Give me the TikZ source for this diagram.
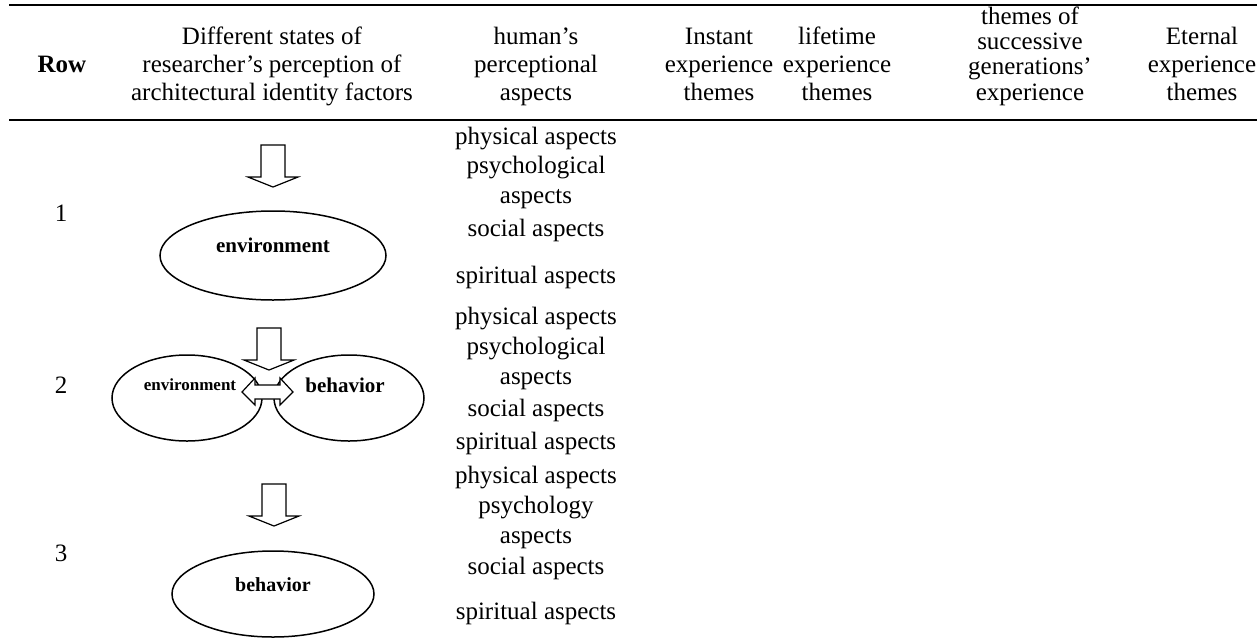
\documentclass[tikz,border=0pt]{standalone}
\usepackage{fontspec}
\setmainfont{Liberation Serif}
\usetikzlibrary{shapes.geometric}
% block arrow pointing down: name, centre x, top y
\newcommand{\blockdown}[3]{%
  \draw[blockarrow] (#2-12,#3) -- (#2+12,#3) -- (#2+12,#3+32) -- (#2+25,#3+32)
    -- (#2,#3+42) coordinate (#1) -- (#2-25,#3+32) -- (#2-12,#3+32) -- cycle;}
\begin{document}
\begin{tikzpicture}[x=0.5pt,y=-0.5pt,
	cell/.style={font=\fontsize{12.5pt}{15pt}\selectfont,inner sep=0pt,anchor=base},
	bubble/.style={ellipse,draw,line width=0.75pt,inner sep=0pt},
	tag/.style={font=\bfseries,inner sep=0pt},
	blockarrow/.style={draw,fill=white,line width=0.6pt,line join=miter}]
	\useasboundingbox (0,0) rectangle (1257,638);
	% rules
	\coordinate (tl) at (9,5);
	\coordinate (tr) at (1257,5);
	\coordinate (hl) at (9,120);
	\coordinate (hr) at (1257,120);
	\draw[line width=1pt] (tl) -- (tr);
	\draw[line width=1pt] (hl) -- (hr);
	% header
	\node[cell,font=\fontsize{12.5pt}{15pt}\selectfont\bfseries] (hrow) at (62,72) {Row};
	\foreach \y/\t [count=\i] in {44/Different states of,72/researcher’s perception of,100/architectural identity factors}
		\node[cell] (hst\i) at (272,\y) {\t};
	\foreach \y/\t [count=\i] in {44/human’s,72/perceptional,100/aspects}
		\node[cell] (hhu\i) at (536,\y) {\t};
	\foreach \y/\t [count=\i] in {44/Instant,72/experience,100/themes}
		\node[cell] (hin\i) at (719,\y) {\t};
	\foreach \y/\t [count=\i] in {44/lifetime,72/experience,100/themes}
		\node[cell] (hli\i) at (837,\y) {\t};
	\foreach \y/\t [count=\i] in {24/themes of,49/successive,74/generations’,100/experience}
		\node[cell] (hsu\i) at (1030,\y) {\t};
	\foreach \y/\t [count=\i] in {44/Eternal,72/experience,100/themes}
		\node[cell] (het\i) at (1202,\y) {\t};
	% row numbers
	\node[cell,anchor=center] (n1) at (61,213) {1};
	\node[cell,anchor=center] (n2) at (61,385) {2};
	\node[cell,anchor=center] (n3) at (61,553) {3};
	% perceptional aspects
	\foreach \y/\t [count=\i] in {144/physical aspects,173/psychological,203/aspects,236/social aspects,283/spiritual aspects,
		324/physical aspects,354/psychological,384/aspects,416/social aspects,449/spiritual aspects,
		483/physical aspects,513/psychology,543/aspects,574/social aspects,619/spiritual aspects}
		\node[cell] (asp\i) at (536,\y) {\t};
	% row 1
	\node[bubble,minimum width=113pt,minimum height=44.5pt] (env1) at (273,255.5) {};
	\blockdown{tip1}{273}{145}
	\node[tag,font=\fontsize{10.5pt}{12pt}\selectfont\bfseries] (envtxt1) at (273,245) {environment};
	% row 2
	\node[bubble,minimum width=75pt,minimum height=43pt] (env2) at (187,398) {};
	\node[bubble,minimum width=75pt,minimum height=43pt] (beh2) at (349,398) {};
	\blockdown{tip2}{269}{328}
	\draw[blockarrow] (242,392) -- (255,378) -- (255,385) -- (280,385) -- (280,378) -- (293,392)
		-- (280,405) -- (280,399) -- (255,399) -- (255,405) -- cycle;
	\node[tag,font=\fontsize{8.5pt}{10pt}\selectfont\bfseries] (envtxt2) at (190,385) {environment};
	\node[tag,font=\fontsize{10.5pt}{12pt}\selectfont\bfseries] (behtxt2) at (345,385) {behavior};
	% row 3
	\node[bubble,minimum width=101pt,minimum height=43pt] (beh3) at (273,594) {};
	\blockdown{tip3}{274}{484}
	\node[tag,font=\fontsize{10pt}{12pt}\selectfont\bfseries] (behtxt3) at (273,585) {behavior};
\end{tikzpicture}
\end{document}
